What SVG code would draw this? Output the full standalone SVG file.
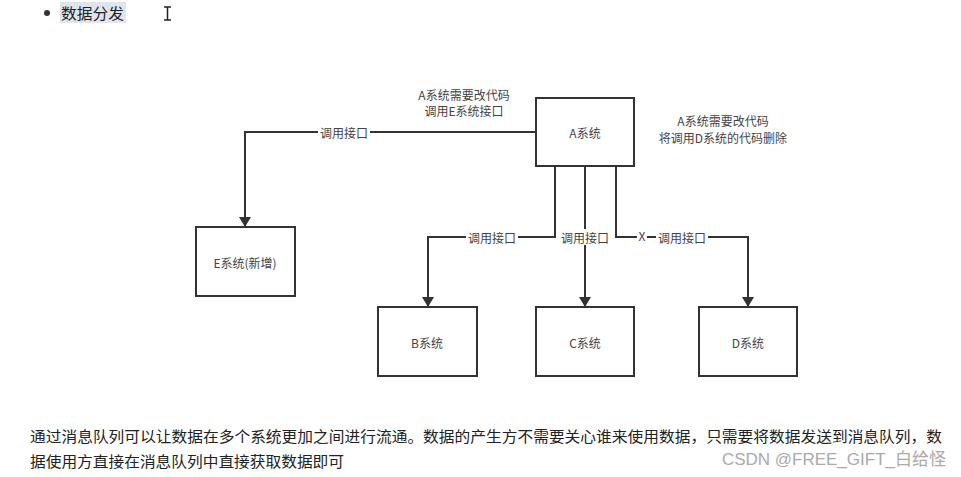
<svg xmlns="http://www.w3.org/2000/svg" width="961" height="477" viewBox="0 0 961 477">
<defs>
<style>
.box{fill:#fff;stroke:#333;stroke-width:2}
.ln{fill:none;stroke:#333;stroke-width:2}
.t{font-family:"Noto Sans CJK SC","Liberation Sans",sans-serif;font-size:12px;fill:#444;text-anchor:middle;dominant-baseline:central}
.lb{font-family:"Noto Sans CJK SC","Liberation Sans",sans-serif;font-size:12px;fill:#444;text-anchor:middle;dominant-baseline:central}
.p{font-family:"Noto Sans CJK SC","Liberation Sans",sans-serif;font-size:15px;fill:#222}
</style>
<marker id="ah" viewBox="0 0 10 12" refX="10" refY="6" markerWidth="10" markerHeight="12" markerUnits="userSpaceOnUse" orient="auto">
<path d="M0,0 L10,6 L0,12 z" fill="#333"/>
</marker>
</defs>
<rect width="961" height="477" fill="#fff"/>
<g id="header">
<circle cx="47" cy="13" r="3" fill="#333"/>
<rect x="60" y="2" width="66" height="21" fill="#dfe5ee"/>
<text x="61" y="12" class="p" dominant-baseline="central" font-size="16" textLength="63" lengthAdjust="spacingAndGlyphs">数据分发</text>
<path d="M164,7 h7 M167.5,7 v13 M164,20 h7" stroke="#222" stroke-width="1.5" fill="none"/>
</g>
<g id="connectors">
<path class="ln" d="M536,132 H245 V227" marker-end="url(#ah)"/>
<path class="ln" d="M555,166 V237 H428 V307" marker-end="url(#ah)"/>
<path class="ln" d="M585,166 V307" marker-end="url(#ah)"/>
<path class="ln" d="M616,166 V237 H748 V307" marker-end="url(#ah)"/>
<rect x="318" y="124" width="52" height="16" fill="#fff"/>
<text x="344" y="132" class="lb">调用接口</text>
<rect x="466" y="229" width="52" height="16" fill="#fff"/>
<text x="492" y="237" class="lb">调用接口</text>
<rect x="559" y="229" width="52" height="16" fill="#fff"/>
<text x="585" y="237" class="lb">调用接口</text>
<rect x="656" y="229" width="52" height="16" fill="#fff"/>
<text x="682" y="237" class="lb">调用接口</text>
<rect x="637" y="229" width="10" height="14" fill="#fff"/>
<text x="642" y="235" class="lb">X</text>
</g>
<g id="nodeA">
<rect x="536" y="98" width="98" height="68" class="box"/>
<text x="585" y="132" class="t">A系统</text>
</g>
<g id="nodeE">
<rect x="196" y="227" width="99" height="69" class="box"/>
<text x="245" y="262" class="t">E系统(新增)</text>
</g>
<g id="nodeB">
<rect x="378" y="307" width="99" height="69" class="box"/>
<text x="427" y="342" class="t">B系统</text>
</g>
<g id="nodeC">
<rect x="536" y="307" width="98" height="69" class="box"/>
<text x="585" y="342" class="t">C系统</text>
</g>
<g id="nodeD">
<rect x="699" y="307" width="98" height="69" class="box"/>
<text x="748" y="342" class="t">D系统</text>
</g>
<g id="notes">
<text x="464" y="94" class="t">A系统需要改代码</text>
<text x="464" y="110" class="t">调用E系统接口</text>
<text x="723" y="120" class="t">A系统需要改代码</text>
<text x="723" y="137" class="t">将调用D系统的代码删除</text>
</g>
<g id="paragraph">
<text x="30" y="435" class="p" dominant-baseline="central" textLength="912" lengthAdjust="spacingAndGlyphs">通过消息队列可以让数据在多个系统更加之间进行流通。数据的产生方不需要关心谁来使用数据，只需要将数据发送到消息队列，数</text>
<text x="30" y="460" class="p" dominant-baseline="central" textLength="314" lengthAdjust="spacingAndGlyphs">据使用方直接在消息队列中直接获取数据即可</text>
<text x="946" y="459" font-family="Liberation Sans,'Noto Sans CJK SC',sans-serif" font-size="17" fill="#aaa" text-anchor="end" dominant-baseline="central">CSDN @FREE_GIFT_白给怪</text>
</g>
</svg>
